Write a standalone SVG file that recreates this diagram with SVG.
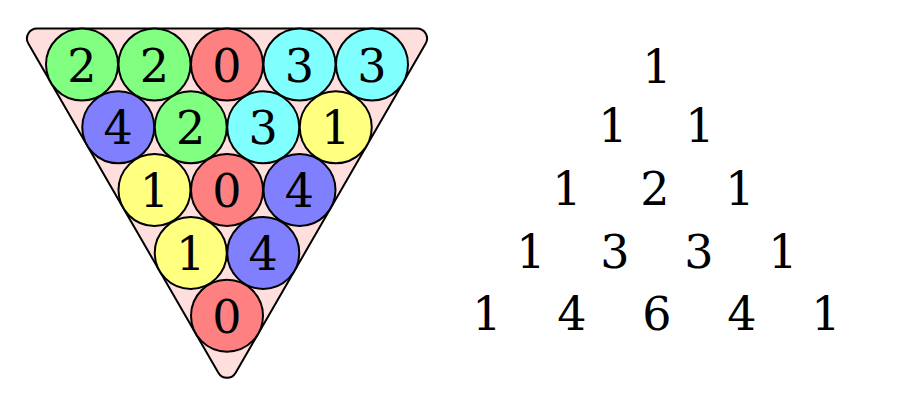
<svg xmlns="http://www.w3.org/2000/svg" width="900" height="400" viewBox="0 0 900 400">
<style>
.ball{stroke:#000;stroke-width:2}
.g{fill:#80ff80}.r{fill:#ff8080}.c{fill:#80ffff}.b{fill:#8080ff}.y{fill:#ffff80}
.t{font-family:'DejaVu Serif','Liberation Serif',serif;font-size:46px;fill:#000;text-anchor:middle}
</style>
<rect width="900" height="400" fill="#fff"/>
<g id="rack">
<path d="M 36.97 28.5 L 417.03 28.5 A 10 10 0 0 1 425.69 43.5 L 235.66 372.7 A 10 10 0 0 1 218.34 372.7 L 28.31 43.5 A 10 10 0 0 1 36.97 28.5 Z" fill="#ffdede" stroke="#000" stroke-width="2"/>
</g>
<g id="balls" class="t">
<g id="b11"><circle class="ball g" cx="82" cy="64.5" r="36"/><text x="82" y="81.5">2</text></g>
<g id="b12"><circle class="ball g" cx="154.5" cy="64.5" r="36"/><text x="154.5" y="81.5">2</text></g>
<g id="b13"><circle class="ball r" cx="227" cy="64.5" r="36"/><text x="227" y="81.5">0</text></g>
<g id="b14"><circle class="ball c" cx="299.5" cy="64.5" r="36"/><text x="299.5" y="81.5">3</text></g>
<g id="b15"><circle class="ball c" cx="372" cy="64.5" r="36"/><text x="372" y="81.5">3</text></g>
<g id="b21"><circle class="ball b" cx="118.25" cy="127.3" r="36"/><text x="118.25" y="144.3">4</text></g>
<g id="b22"><circle class="ball g" cx="190.75" cy="127.3" r="36"/><text x="190.75" y="144.3">2</text></g>
<g id="b23"><circle class="ball c" cx="263.25" cy="127.3" r="36"/><text x="263.25" y="144.3">3</text></g>
<g id="b24"><circle class="ball y" cx="335.75" cy="127.3" r="36"/><text x="335.75" y="144.3">1</text></g>
<g id="b31"><circle class="ball y" cx="154.5" cy="190.1" r="36"/><text x="154.5" y="207.1">1</text></g>
<g id="b32"><circle class="ball r" cx="227" cy="190.1" r="36"/><text x="227" y="207.1">0</text></g>
<g id="b33"><circle class="ball b" cx="299.5" cy="190.1" r="36"/><text x="299.5" y="207.1">4</text></g>
<g id="b41"><circle class="ball y" cx="190.75" cy="252.9" r="36"/><text x="190.75" y="269.9">1</text></g>
<g id="b42"><circle class="ball b" cx="263.25" cy="252.9" r="36"/><text x="263.25" y="269.9">4</text></g>
<g id="b51"><circle class="ball r" cx="227" cy="315.7" r="36"/><text x="227" y="332.7">0</text></g>
</g>
<g id="pascal" class="t">
<text x="657" y="83">1</text>
<text x="613" y="142">1</text><text x="700" y="142">1</text>
<text x="567" y="205">1</text><text x="655" y="205">2</text><text x="740" y="205">1</text>
<text x="531" y="268">1</text><text x="615" y="268">3</text><text x="699" y="268">3</text><text x="783" y="268">1</text>
<text x="487" y="330">1</text><text x="572" y="330">4</text><text x="657" y="330">6</text><text x="742" y="330">4</text><text x="826" y="330">1</text>
</g>
<g id="connectors"/>
</svg>
